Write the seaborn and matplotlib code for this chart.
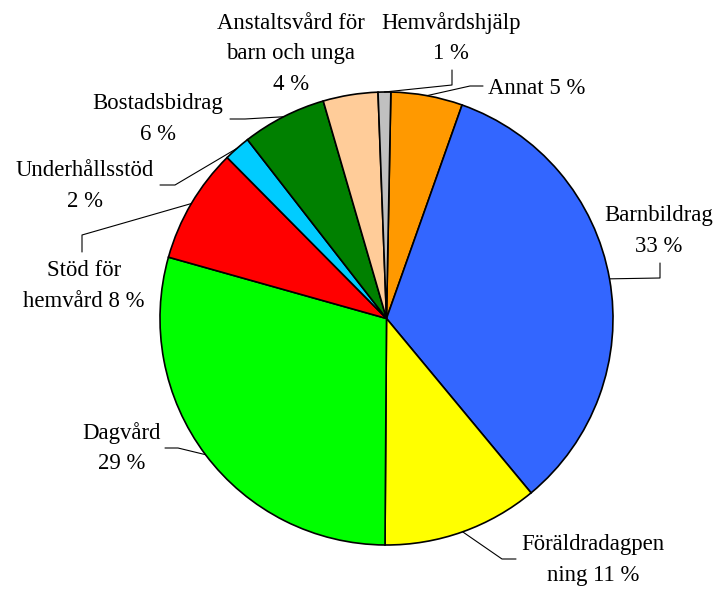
import numpy as np
import matplotlib
matplotlib.use("Agg")
import matplotlib.pyplot as plt
import seaborn as sns

# slices clockwise from the top
categories = ["Annat", "Barnbildrag", "Föräldradagpen\nning", "Dagvård",
              "Stöd för\nhemvård", "Underhållsstöd", "Bostadsbidrag",
              "Anstaltsvård för\nbarn och unga", "Hemvårdshjälp"]
shares = [5.1, 33.5, 11.1, 29.2, 8.2, 1.9, 6.0, 3.9, 0.9]
shown_pct = [5, 33, 11, 29, 8, 2, 6, 4, 1]
separators = [" ", "\n", " ", "\n", " ", "\n", "\n", "\n", "\n"]
colors = ["#FF9900", "#3366FF", "#FFFF00", "#00FF00", "#FF0000",
          "#00CCFF", "#008000", "#FFCC99", "#C0C0C0"]

sns.set_theme(style="white")
plt.rcParams['font.family'] = ['Liberation Serif', 'DejaVu Serif']

W, H = 719, 590
fig = plt.figure(figsize=(W / 100, H / 100), dpi=100)
ax = fig.add_axes([0, 0, 1, 1])

cx, cy, R = 386.5, H - 318.5, 226.5
wedges, _ = ax.pie(shares, colors=colors, startangle=88.9, counterclock=False,
                   center=(cx, cy), radius=R,
                   wedgeprops=dict(edgecolor="black", linewidth=1.2))
ax.set_xlim(0, W)
ax.set_ylim(0, H)
ax.set_aspect("equal")
ax.axis("off")

# label block centres and leader elbows, in pixels from the top-left
label_pos = [(537, 88), (659, 231), (593, 560), (122, 448), (84, 286),
             (85, 186), (158, 119), (291, 54), (451, 38)]
leaders = [
    [(470, 86), (483, 86)],
    [(660, 278), (660, 263)],
    [(502, 559), (516, 559)],
    [(178, 448), (165, 448)],
    [(82, 235), (82, 252)],
    [(175, 185), (160, 185)],
    [(245, 119), (230, 119)],
    [],
    [(452, 85), (452, 70)],
]

for w, name, p, sep, (lx, ly), elbows in zip(wedges, categories, shown_pct,
                                             separators, label_pos, leaders):
    ax.text(lx, H - ly, f"{name}{sep}{p} %", ha="center", va="center",
            multialignment="center", fontsize=16.4, linespacing=1.6,
            color="black")
    if elbows:
        mid = np.deg2rad((w.theta1 + w.theta2) / 2)
        xs = [cx + R * np.cos(mid)] + [e[0] for e in elbows]
        ys = [cy + R * np.sin(mid)] + [H - e[1] for e in elbows]
        ax.plot(xs, ys, color="black", linewidth=0.8)

fig.savefig("out.png", dpi=100)
